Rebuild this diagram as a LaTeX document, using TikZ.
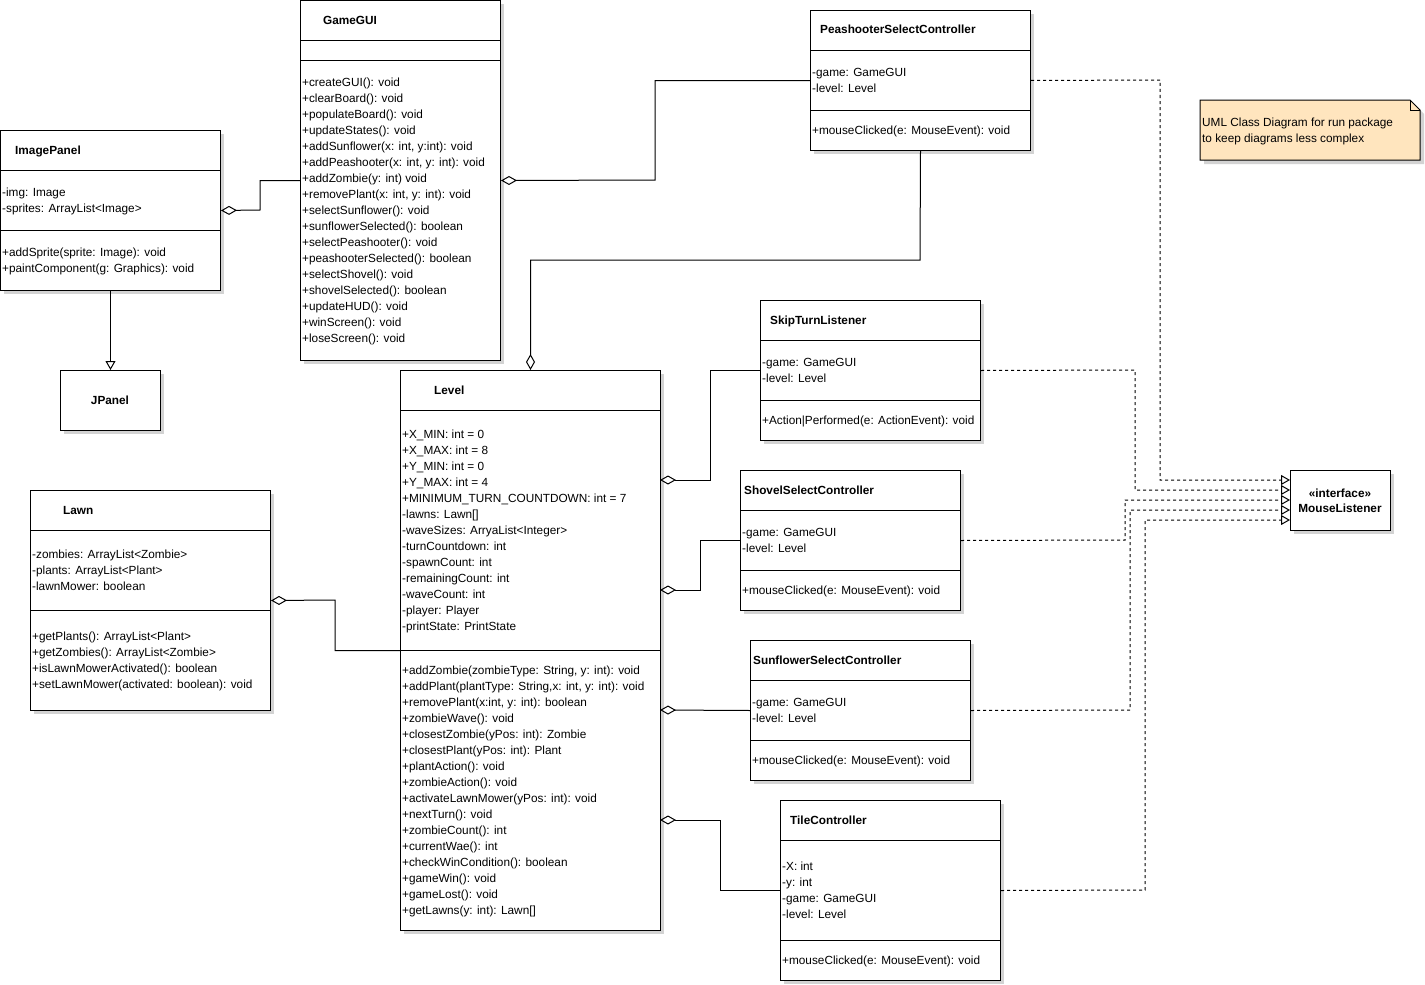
\documentclass[tikz,border=0pt]{standalone}
\usepackage{fontspec}
\setmainfont{Liberation Sans}
\usetikzlibrary{arrows.meta}
\definecolor{shadowgray}{RGB}{211,211,211}
\definecolor{notefill}{RGB}{255,229,190}
\tikzset{
  umlbox/.style={draw, fill=white, line width=1pt, inner sep=0pt, anchor=north west},
  member/.style={anchor=base west, inner sep=0pt, font=\fontsize{11.8}{14}\selectfont},
  titletext/.style={anchor=base west, inner sep=0pt, font=\fontsize{11.8}{14}\selectfont\bfseries},
  conn/.style={line width=1pt},
  agg/.style={conn, {Diamond[open,length=16pt,width=9pt]}-},
  aggend/.style={conn, -{Diamond[open,length=16pt,width=9pt]}},
  gen/.style={conn, -{Triangle[open,length=9pt,width=10pt]}},
  real/.style={conn, dash pattern=on 3pt off 3pt, -{Triangle[open,length=9pt,width=10pt]}},
}
\newcommand{\umlclass}[5]{%
  \fill[shadowgray] ({#2+4},{#3+4}) rectangle ({#4+4},{#5+4});
  \node[umlbox, minimum width={(#4-#2)*1pt}, minimum height={(#5-#3)*1pt}] (#1) at (#2,#3) {};
}
\newcommand{\hsep}[3]{\draw[conn] (#1,#3) -- (#2,#3);}
\newcommand{\mlist}[4]{%
  \foreach \t [count=\i] in {#4} {\node[member] (#1-\i) at (#2,{#3+16*(\i-1)}) {\t};}
}
\begin{document}
\begin{tikzpicture}[x=1pt,y=-1pt]
\useasboundingbox (0,0) rectangle (1425,985);

% ---------- GameGUI ----------
\umlclass{gamegui}{300}{0}{500}{360}
\hsep{300}{500}{40}\hsep{300}{500}{60}
\node[titletext] (gamegui-title) at (323,24) {GameGUI};
\mlist{gameguim}{302}{86}{{+createGUI(): void},{+clearBoard(): void},{+populateBoard(): void},{+updateStates(): void},{+addSunflower(x: int, y:int): void},{+addPeashooter(x: int, y: int): void},{+addZombie(y: int) void},{+removePlant(x: int, y: int): void},{+selectSunflower(): void},{+sunflowerSelected(): boolean},{+selectPeashooter(): void},{+peashooterSelected(): boolean},{+selectShovel(): void},{+shovelSelected(): boolean},{+updateHUD(): void},{+winScreen(): void},{+loseScreen(): void}}

% ---------- ImagePanel ----------
\umlclass{imagepanel}{0}{130}{220}{290}
\hsep{0}{220}{170}\hsep{0}{220}{230}
\node[titletext] (imagepanel-title) at (15,154) {ImagePanel};
\mlist{imagepanela}{2}{196}{{-img: Image},{-sprites: ArrayList<Image>}}
\mlist{imagepanelm}{2}{256}{{+addSprite(sprite: Image): void},{+paintComponent(g: Graphics): void}}

% ---------- JPanel ----------
\umlclass{jpanel}{60}{370}{160}{430}
\node[titletext, anchor=base] (jpanel-title) at (110,404) {JPanel};

% ---------- PeashooterSelectController ----------
\umlclass{pea}{810}{10}{1030}{150}
\hsep{810}{1030}{50}\hsep{810}{1030}{110}
\node[titletext] (pea-title) at (820,34) {PeashooterSelectController};
\mlist{peaa}{812}{76}{{-game: GameGUI},{-level: Level}}
\mlist{peam}{812}{134}{{+mouseClicked(e: MouseEvent): void}}

% ---------- Level ----------
\umlclass{level}{400}{370}{660}{930}
\hsep{400}{660}{410}\hsep{400}{660}{650}
\node[titletext] (level-title) at (434,394) {Level};
\mlist{levela}{402}{438}{{+X\_MIN: int = 0},{+X\_MAX: int = 8},{+Y\_MIN: int = 0},{+Y\_MAX: int = 4},{+MINIMUM\_TURN\_COUNTDOWN: int = 7},{-lawns: Lawn[]},{-waveSizes: ArryaList<Integer>},{-turnCountdown: int},{-spawnCount: int},{-remainingCount: int},{-waveCount: int},{-player: Player},{-printState: PrintState}}
\mlist{levelm}{402}{674}{{+addZombie(zombieType: String, y: int): void},{+addPlant(plantType: String,x: int, y: int): void},{+removePlant(x:int, y: int): boolean},{+zombieWave(): void},{+closestZombie(yPos: int): Zombie},{+closestPlant(yPos: int): Plant},{+plantAction(): void},{+zombieAction(): void},{+activateLawnMower(yPos: int): void},{+nextTurn(): void},{+zombieCount(): int},{+currentWae(): int},{+checkWinCondition(): boolean},{+gameWin(): void},{+gameLost(): void},{+getLawns(y: int): Lawn[]}}

% ---------- Lawn ----------
\umlclass{lawn}{30}{490}{270}{710}
\hsep{30}{270}{530}\hsep{30}{270}{610}
\node[titletext] (lawn-title) at (63,514) {Lawn};
\mlist{lawna}{32}{558}{{-zombies: ArrayList<Zombie>},{-plants: ArrayList<Plant>},{-lawnMower: boolean}}
\mlist{lawnm}{32}{640}{{+getPlants(): ArrayList<Plant>},{+getZombies(): ArrayList<Zombie>},{+isLawnMowerActivated(): boolean},{+setLawnMower(activated: boolean): void}}

% ---------- SkipTurnListener ----------
\umlclass{skip}{760}{300}{980}{440}
\hsep{760}{980}{340}\hsep{760}{980}{400}
\node[titletext] (skip-title) at (770,324) {SkipTurnListener};
\mlist{skipa}{762}{366}{{-game: GameGUI},{-level: Level}}
\mlist{skipm}{762}{424}{{+Action|Performed(e: ActionEvent): void}}

% ---------- ShovelSelectController ----------
\umlclass{shovel}{740}{470}{960}{610}
\hsep{740}{960}{510}\hsep{740}{960}{570}
\node[titletext] (shovel-title) at (744,494) {ShovelSelectController};
\mlist{shovela}{742}{536}{{-game: GameGUI},{-level: Level}}
\mlist{shovelm}{742}{594}{{+mouseClicked(e: MouseEvent): void}}

% ---------- SunflowerSelectController ----------
\umlclass{sun}{750}{640}{970}{780}
\hsep{750}{970}{680}\hsep{750}{970}{740}
\node[titletext] (sun-title) at (753,664) {SunflowerSelectController};
\mlist{suna}{752}{706}{{-game: GameGUI},{-level: Level}}
\mlist{sunm}{752}{764}{{+mouseClicked(e: MouseEvent): void}}

% ---------- TileController ----------
\umlclass{tile}{780}{800}{1000}{980}
\hsep{780}{1000}{840}\hsep{780}{1000}{940}
\node[titletext] (tile-title) at (790,824) {TileController};
\mlist{tilea}{782}{870}{{-X: int},{-y: int},{-game: GameGUI},{-level: Level}}
\mlist{tilem}{782}{964}{{+mouseClicked(e: MouseEvent): void}}

% ---------- MouseListener ----------
\umlclass{ml}{1290}{470}{1390}{530}
\node[titletext, anchor=base] (ml-t1) at (1340,497) {«interface»};
\node[titletext, anchor=base] (ml-t2) at (1340,512) {MouseListener};

% ---------- Note ----------
\fill[shadowgray] (1204,104) -- (1414,104) -- (1424,114) -- (1424,164) -- (1204,164) -- cycle;
\draw[conn, fill=notefill] (1200,100) -- (1410,100) -- (1420,110) -- (1420,160) -- (1200,160) -- cycle;
\draw[conn] (1410,100) -- (1410,110) -- (1420,110);
\node[member] (note-1) at (1202,126) {UML Class Diagram for run package};
\node[member] (note-2) at (1202,142) {to keep diagrams less complex};

% ---------- anchor coordinates ----------
\coordinate (lvA) at (660,480);
\coordinate (lvB) at (660,590);
\coordinate (lvC) at (660,710);
\coordinate (lvD) at (660,820);
\coordinate (mlA) at (1290,480);
\coordinate (mlB) at (1290,490);
\coordinate (mlC) at (1290,500);
\coordinate (mlD) at (1290,510);
\coordinate (mlE) at (1290,520);

% ---------- connectors ----------
\draw[agg] (imagepanel.east) -- (260,210) |- (gamegui.west);
\draw[gen] (imagepanel.south) -- (jpanel.north);
\draw[agg] (gamegui.east) -- (655,180) |- (pea.west);
\draw[aggend] (pea.south) -- (920,260) -| (level.north);
\draw[agg] (lawn.east) -- (335,600) |- (level.west);
\draw[agg] (lvA) -- (710,480) |- (skip.west);
\draw[agg] (lvB) -- (700,590) |- (shovel.west);
\draw[agg] (lvC) -- (sun.west);
\draw[agg] (lvD) -- (720,820) |- (tile.west);

\draw[real] (pea.east) -- (1160,80) |- (mlA);
\draw[real] (skip.east) -- (1135,370) |- (mlB);
\draw[real] (shovel.east) -- (1125,540) |- (mlC);
\draw[real] (sun.east) -- (1130,710) |- (mlD);
\draw[real] (tile.east) -- (1145,890) |- (mlE);
\end{tikzpicture}
\end{document}
